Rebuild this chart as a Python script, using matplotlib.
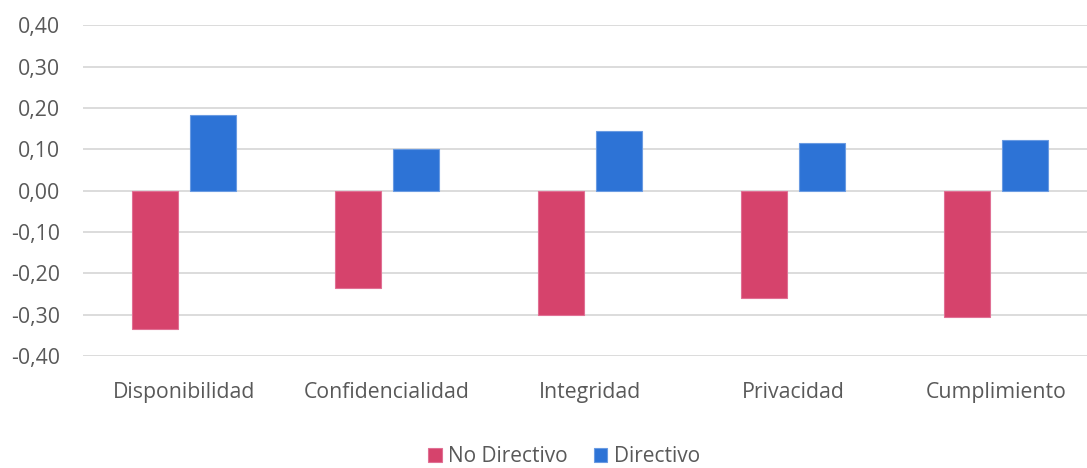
import matplotlib
matplotlib.use("Agg")
import matplotlib.pyplot as plt
import numpy as np

categories = ["Disponibilidad", "Confidencialidad", "Integridad", "Privacidad", "Cumplimiento"]
no_directivo = [-0.335, -0.236, -0.301, -0.259, -0.306]
directivo = [0.183, 0.101, 0.145, 0.115, 0.122]
series_names = ["No Directivo", "Directivo"]
yticks = [-0.4, -0.3, -0.2, -0.1, 0.0, 0.1, 0.2, 0.3, 0.4]

pink = "#D6436C"
blue = "#2D73D6"
text_color = "#595959"
grid_color = "#D9D9D9"

plt.rcParams["font.family"] = ["Open Sans", "DejaVu Sans"]

fig = plt.figure(figsize=(10.87, 4.68), dpi=100)
ax = fig.add_axes([82.5 / 1087, 1 - 356 / 468, 1015 / 1087, (356 - 25.4) / 468])

x = np.arange(len(categories))
width = 0.222
offset = 0.143
ax.bar(x - offset, no_directivo, width, color=pink, edgecolor="#E07094", linewidth=0.8,
       label=series_names[0], zorder=3)
ax.bar(x + offset, directivo, width, color=blue, edgecolor="#6A9BE2", linewidth=0.8,
       label=series_names[1], zorder=3)

ax.set_xlim(-0.5, len(categories) - 0.5)
ax.set_ylim(-0.4, 0.4)
ax.set_yticks(yticks)
ax.set_yticklabels([f"{v:.2f}".replace(".", ",") for v in yticks])
ax.set_xticks(x)
ax.set_xticklabels(categories)

ax.grid(axis="y", color=grid_color, linewidth=1.3, zorder=0)
for s in ax.spines.values():
    s.set_visible(False)
ax.tick_params(axis="both", length=0, colors=text_color, labelsize=15.3)
ax.tick_params(axis="y", pad=16)
ax.tick_params(axis="x", pad=19)

leg = fig.legend(loc="center", bbox_to_anchor=(0.519, 1 - 457 / 468), ncol=2,
                 frameon=False, fontsize=15.0, handlelength=0.65, handleheight=0.65,
                 handletextpad=0.3, columnspacing=1.25, labelcolor=text_color,
                 borderpad=0.1)

fig.savefig("out.png", dpi=100)
